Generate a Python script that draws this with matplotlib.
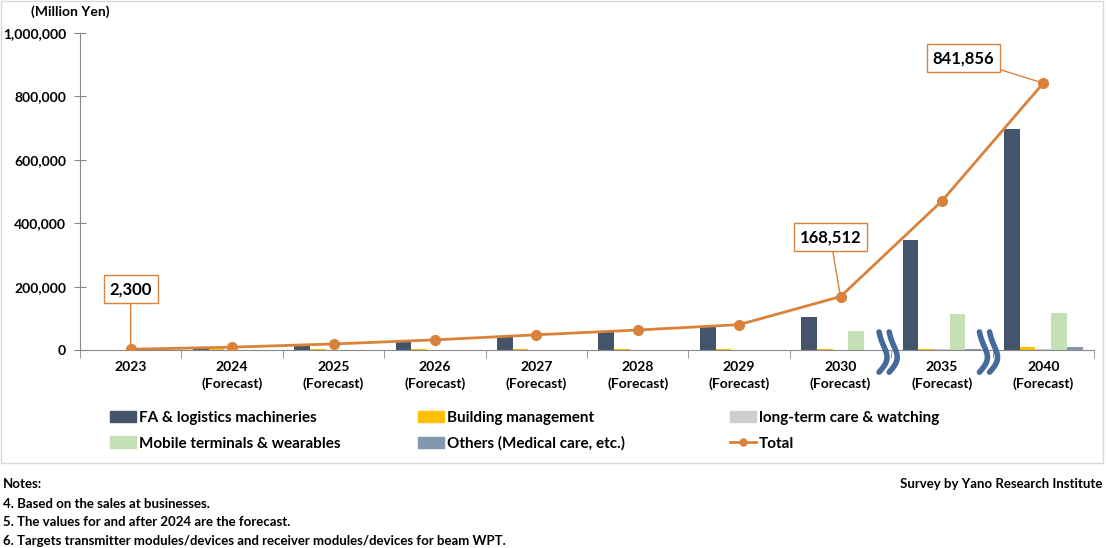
import numpy as np
import matplotlib.pyplot as plt
from matplotlib.patches import Rectangle
from matplotlib.lines import Line2D

plt.rcParams['font.family'] = ['Lato', 'DejaVu Sans']
plt.rcParams['font.weight'] = 'bold'

# data (Million Yen)
years = ['2023', '2024\n(Forecast)', '2025\n(Forecast)', '2026\n(Forecast)', '2027\n(Forecast)',
         '2028\n(Forecast)', '2029\n(Forecast)', '2030\n(Forecast)', '2035\n(Forecast)', '2040\n(Forecast)']
fa = [1500, 5000, 14000, 27000, 42000, 57000, 72000, 104000, 348000, 698000]
building = [600, 2000, 2500, 2500, 2500, 2500, 2500, 2500, 2500, 11000]
care = [100, 300, 600, 900, 1100, 1300, 1500, 1500, 2000, 4000]
mobile = [0, 0, 0, 0, 0, 0, 0, 60000, 112000, 118000]
others = [100, 300, 500, 700, 900, 1100, 1300, 1500, 3000, 9000]
total = [2300, 9000, 19000, 32000, 48000, 63000, 80000, 168512, 470000, 841856]

labels = ['FA & logistics machineries', 'Building management', 'long-term care & watching',
          'Mobile terminals & wearables', 'Others (Medical care, etc.)', 'Total']
colors = ['#44546a', '#ffc000', '#d0cece', '#c5e0b4', '#8497b0']
line_color = '#d9823b'

fig = plt.figure(figsize=(11.06, 5.48), dpi=100)
ax = fig.add_axes([80 / 1106, 1 - 350 / 548, 1014 / 1106, 317 / 548])

x = np.arange(len(years))
w = 0.155
series = [fa, building, care, mobile, others]
for i, s in enumerate(series):
    ax.bar(x + (i - 2) * w, s, width=w, color=colors[i], zorder=2)

ax.plot(x, total, color=line_color, lw=2, marker='o', ms=7, zorder=4)

ax.set_xlim(-0.5, len(years) - 0.5)
ax.set_ylim(0, 1000000)
ax.set_yticks(np.arange(0, 1000001, 200000))
ax.set_yticklabels([f'{v:,}' for v in range(0, 1000001, 200000)], fontsize=10, fontweight='bold')
ax.tick_params(axis='y', direction='inout', length=8, color='#888888', pad=6)
ax.set_xticks(x)
ax.set_xticklabels(years, fontsize=10, fontweight='bold', linespacing=1.4)
ax.tick_params(axis='x', length=0, pad=8)
ax.set_xticks(np.arange(-0.5, len(years)), minor=True)
ax.tick_params(axis='x', which='minor', direction='out', length=6, color='#888888')
for sp in ['top', 'right']:
    ax.spines[sp].set_visible(False)
for sp in ['left', 'bottom']:
    ax.spines[sp].set_color('#888888')

fig.text(70 / 1106, 1 - 12 / 548, '(Million Yen)', ha='center', va='center', fontsize=10, fontweight='bold')

# value call-outs
def callout(idx, tx, ty, txt):
    ax.annotate(txt, xy=(idx, total[idx]), xytext=(tx, ty), textcoords='data',
                ha='center', va='center', fontsize=12, fontweight='bold',
                bbox=dict(boxstyle='square,pad=0.35', fc='white', ec=line_color, lw=1),
                arrowprops=dict(arrowstyle='-', color=line_color, lw=1, shrinkA=0, shrinkB=3),
                zorder=5)

callout(0, 0.0, 192000, '2,300')
callout(7, 6.9, 356000, '168,512')
callout(9, 8.21, 921000, '841,856')

# axis break marks
t = np.linspace(0, 1, 40)
for xb in [7.38, 8.37]:
    for dx in [0, 0.1]:
        xs = xb + dx + 0.07 * np.sin(np.pi * t) - 0.02 * np.sin(2 * np.pi * t)
        ys = 57000 - 127000 * t
        ax.plot(xs, ys, color='#44699a', lw=4, solid_capstyle='round', clip_on=False, zorder=6)

# legend in three columns
handles = [Rectangle((0, 0), 1, 1, color=c) for c in colors]
handles.append(Line2D([0], [0], color=line_color, lw=2, marker='o', ms=5))
cols = [(0, 3), (1, 4), (2, 5)]
xs_leg = [96 / 1106, 404 / 1106, 716 / 1106]
for (a, b), xl in zip(cols, xs_leg):
    fig.legend([handles[a], handles[b]], [labels[a], labels[b]], loc='upper left',
               bbox_to_anchor=(xl, 1 - 397 / 548), frameon=False,
               handlelength=1.7, handleheight=0.8, handletextpad=0.2, labelspacing=0.75,
               prop={'weight': 'bold', 'size': 11})

# outer frame around chart area
fig.add_artist(Rectangle((1 / 1106, 1 - 463 / 548), 1102 / 1106, 462 / 548, transform=fig.transFigure,
                         fill=False, ec='#d9d9d9', lw=1))

fig.text(3 / 1106, 1 - 484 / 548, 'Notes:', ha='left', va='center', fontsize=9.5, fontweight='bold')
fig.text(1102 / 1106, 1 - 484 / 548, 'Survey by Yano Research Institute', ha='right', va='center',
         fontsize=9.5, fontweight='bold')
notes = ['4. Based on the sales at businesses.',
         '5. The values for and after 2024 are the forecast.',
         '6. Targets transmitter modules/devices and receiver modules/devices for beam WPT.']
for i, n in enumerate(notes):
    fig.text(3 / 1106, 1 - (504 + i * 18.5) / 548, n, ha='left', va='center', fontsize=9.5, fontweight='bold')

fig.savefig('out.png', dpi=100)
